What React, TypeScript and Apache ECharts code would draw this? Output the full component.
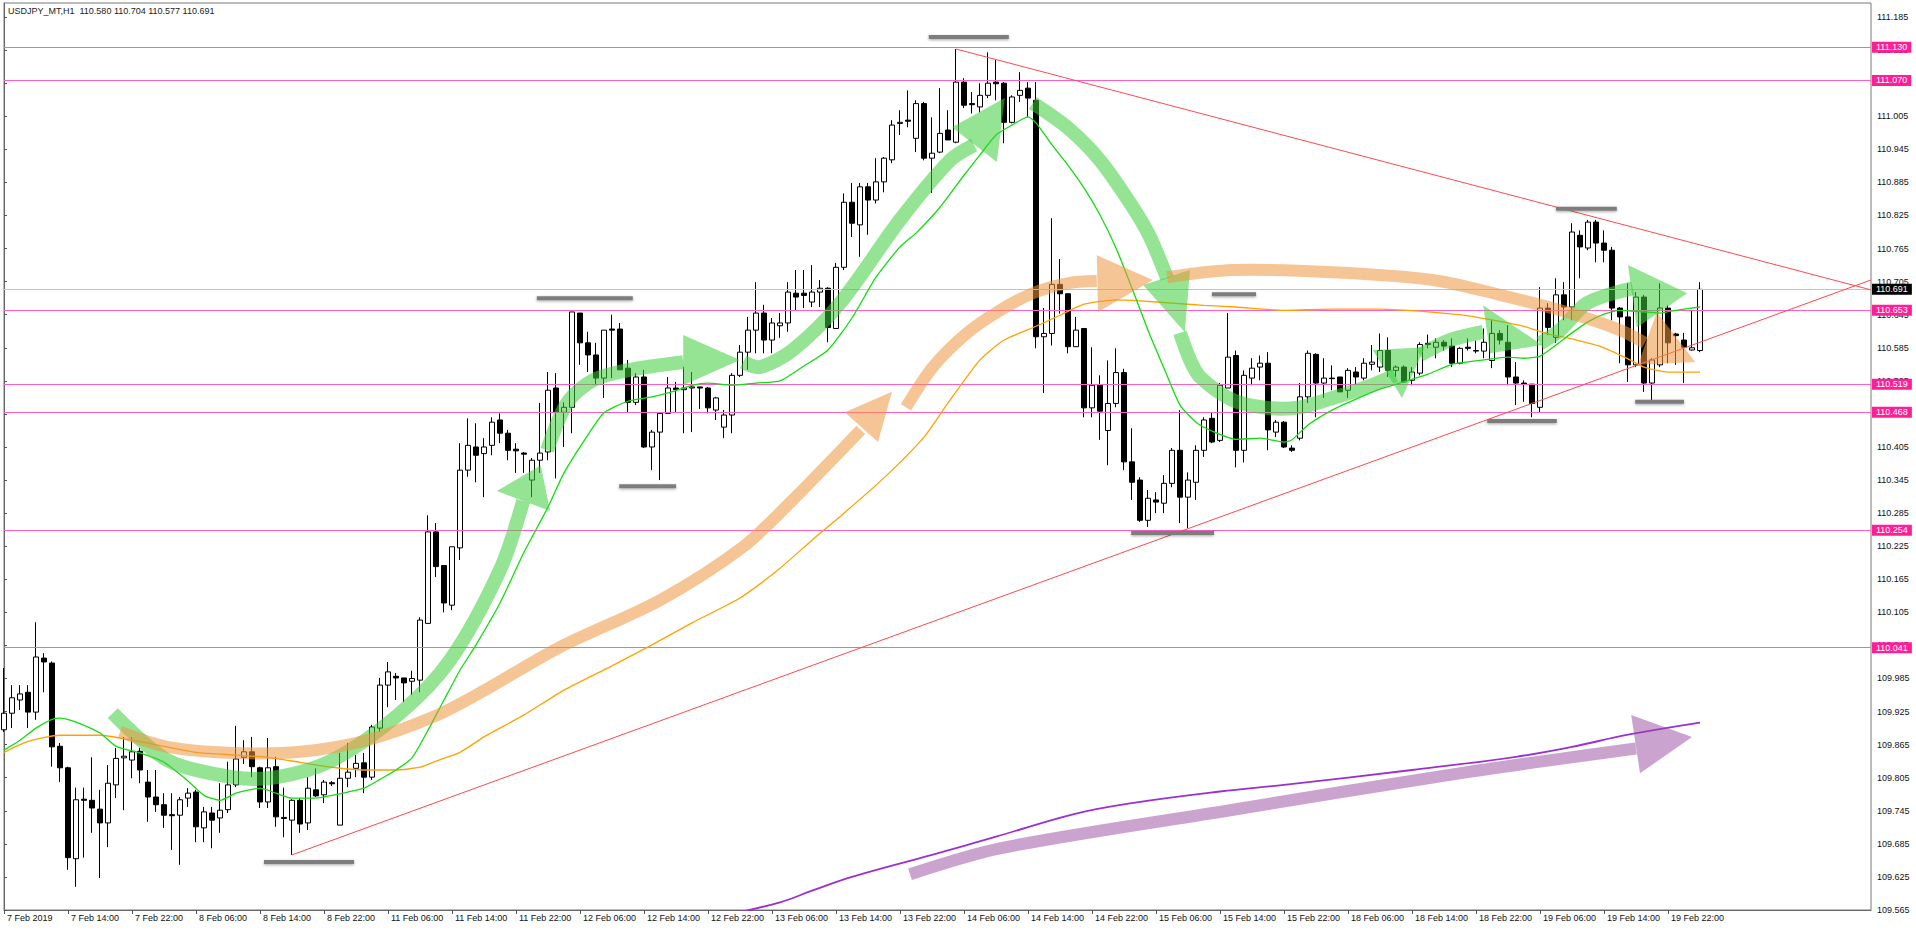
import React, { useEffect, useRef } from 'react';
import * as echarts from 'echarts';

const titleText = 'USDJPY_MT,H1  110.580 110.704 110.577 110.691';

// one label every 8 hourly bars, starting at bar 0
const timeLabels = ['7 Feb 2019', '7 Feb 14:00', '7 Feb 22:00', '8 Feb 06:00', '8 Feb 14:00', '8 Feb 22:00', '11 Feb 06:00', '11 Feb 14:00', '11 Feb 22:00', '12 Feb 06:00', '12 Feb 14:00', '12 Feb 22:00', '13 Feb 06:00', '13 Feb 14:00', '13 Feb 22:00', '14 Feb 06:00', '14 Feb 14:00', '14 Feb 22:00', '15 Feb 06:00', '15 Feb 14:00', '15 Feb 22:00', '18 Feb 06:00', '18 Feb 14:00', '18 Feb 22:00', '19 Feb 06:00', '19 Feb 14:00', '19 Feb 22:00'];

// [open, close, low, high]
const candles = [
  [109.892, 109.922, 109.888, 110.004], [109.922, 109.950, 109.895, 109.973], [109.946, 109.957, 109.928, 109.973], [109.960, 109.924, 109.895, 109.973],
  [109.924, 110.024, 109.910, 110.087], [110.022, 110.015, 109.960, 110.031], [110.013, 109.861, 109.825, 110.016], [109.862, 109.823, 109.797, 109.868],
  [109.823, 109.660, 109.638, 109.825], [109.658, 109.765, 109.607, 109.787], [109.766, 109.764, 109.660, 109.787], [109.764, 109.750, 109.705, 109.842],
  [109.748, 109.723, 109.623, 109.783], [109.723, 109.795, 109.679, 109.828], [109.792, 109.840, 109.768, 109.859], [109.841, 109.844, 109.746, 109.879],
  [109.837, 109.852, 109.804, 109.879], [109.853, 109.819, 109.795, 109.859], [109.797, 109.770, 109.725, 109.819], [109.770, 109.756, 109.743, 109.819],
  [109.756, 109.737, 109.714, 109.777], [109.738, 109.736, 109.674, 109.777], [109.737, 109.765, 109.647, 109.770], [109.768, 109.777, 109.752, 109.786],
  [109.779, 109.716, 109.688, 109.783], [109.714, 109.743, 109.688, 109.752], [109.741, 109.728, 109.677, 109.752], [109.732, 109.746, 109.705, 109.795],
  [109.747, 109.792, 109.741, 109.834], [109.792, 109.839, 109.788, 109.899], [109.842, 109.852, 109.830, 109.873], [109.852, 109.825, 109.806, 109.879],
  [109.823, 109.761, 109.750, 109.825], [109.761, 109.823, 109.750, 109.877], [109.825, 109.734, 109.716, 109.843], [109.733, 109.731, 109.697, 109.787],
  [109.728, 109.764, 109.665, 109.766], [109.764, 109.721, 109.705, 109.768], [109.723, 109.786, 109.710, 109.806], [109.783, 109.772, 109.770, 109.822],
  [109.774, 109.797, 109.759, 109.801], [109.796, 109.794, 109.790, 109.799], [109.719, 109.804, 109.719, 109.850], [109.804, 109.815, 109.788, 109.868],
  [109.822, 109.831, 109.806, 109.846], [109.832, 109.806, 109.777, 109.850], [109.806, 109.897, 109.801, 109.901], [109.895, 109.973, 109.888, 109.986],
  [109.973, 109.997, 109.933, 110.015], [109.989, 109.986, 109.946, 109.995], [109.986, 109.977, 109.942, 109.986], [109.980, 109.985, 109.955, 109.999],
  [109.982, 110.091, 109.960, 110.096], [110.085, 110.251, 110.085, 110.281], [110.251, 110.188, 110.169, 110.267], [110.190, 110.122, 110.105, 110.191],
  [110.118, 110.224, 110.109, 110.224], [110.222, 110.363, 110.200, 110.412], [110.363, 110.408, 110.351, 110.457], [110.405, 110.390, 110.341, 110.448],
  [110.393, 110.405, 110.314, 110.421], [110.408, 110.450, 110.390, 110.459], [110.454, 110.430, 110.412, 110.466], [110.430, 110.399, 110.381, 110.436],
  [110.401, 110.398, 110.358, 110.412], [110.394, 110.392, 110.358, 110.396], [110.345, 110.381, 110.314, 110.385], [110.381, 110.394, 110.358, 110.485],
  [110.396, 110.508, 110.381, 110.541], [110.512, 110.468, 110.348, 110.539], [110.468, 110.477, 110.405, 110.486], [110.477, 110.650, 110.430, 110.650],
  [110.648, 110.594, 110.554, 110.648], [110.594, 110.572, 110.541, 110.614], [110.572, 110.530, 110.517, 110.594], [110.530, 110.617, 110.494, 110.617],
  [110.619, 110.617, 110.530, 110.645], [110.619, 110.545, 110.545, 110.630], [110.548, 110.486, 110.468, 110.563], [110.486, 110.532, 110.481, 110.539],
  [110.532, 110.405, 110.403, 110.545], [110.405, 110.432, 110.363, 110.436], [110.432, 110.466, 110.345, 110.468], [110.466, 110.512, 110.466, 110.532],
  [110.512, 110.509, 110.468, 110.523], [110.509, 110.512, 110.430, 110.550], [110.512, 110.514, 110.432, 110.541], [110.514, 110.512, 110.474, 110.514],
  [110.512, 110.476, 110.466, 110.514], [110.472, 110.494, 110.454, 110.496], [110.441, 110.463, 110.421, 110.472], [110.463, 110.535, 110.430, 110.539],
  [110.535, 110.577, 110.532, 110.590], [110.577, 110.617, 110.545, 110.641], [110.617, 110.648, 110.575, 110.704], [110.648, 110.599, 110.575, 110.663],
  [110.599, 110.630, 110.575, 110.639], [110.625, 110.630, 110.603, 110.648], [110.630, 110.686, 110.614, 110.704], [110.684, 110.677, 110.653, 110.726],
  [110.684, 110.680, 110.657, 110.726], [110.668, 110.686, 110.659, 110.735], [110.686, 110.693, 110.659, 110.708], [110.693, 110.622, 110.595, 110.695],
  [110.620, 110.731, 110.620, 110.739], [110.731, 110.849, 110.726, 110.865], [110.849, 110.811, 110.786, 110.884], [110.808, 110.877, 110.750, 110.884],
  [110.877, 110.853, 110.790, 110.884], [110.853, 110.886, 110.847, 110.929], [110.886, 110.929, 110.867, 110.931], [110.926, 110.989, 110.920, 110.998],
  [110.992, 110.994, 110.971, 111.016], [110.998, 110.996, 110.985, 111.052], [110.965, 111.028, 110.940, 111.034], [111.028, 110.929, 110.925, 111.031],
  [110.929, 110.938, 110.866, 111.003], [110.940, 110.974, 110.938, 111.056], [110.980, 110.962, 110.962, 111.016], [110.958, 111.067, 110.956, 111.127],
  [111.067, 111.025, 111.020, 111.074], [111.028, 111.026, 111.010, 111.049], [111.022, 111.043, 111.012, 111.065], [111.043, 111.065, 111.038, 111.121],
  [111.067, 111.064, 111.034, 111.107], [111.065, 110.994, 110.956, 111.067], [110.994, 111.040, 110.992, 111.043], [111.043, 111.052, 111.031, 111.085],
  [111.056, 111.038, 111.003, 111.067], [111.034, 110.605, 110.584, 111.067], [110.605, 110.611, 110.503, 110.657], [110.611, 110.700, 110.589, 110.820],
  [110.700, 110.683, 110.647, 110.746], [110.683, 110.587, 110.575, 110.683], [110.587, 110.617, 110.587, 110.641], [110.620, 110.476, 110.459, 110.620],
  [110.476, 110.517, 110.459, 110.586], [110.517, 110.470, 110.418, 110.535], [110.435, 110.484, 110.372, 110.562], [110.484, 110.540, 110.477, 110.584],
  [110.540, 110.378, 110.363, 110.547], [110.378, 110.341, 110.309, 110.439], [110.345, 110.272, 110.269, 110.350], [110.272, 110.312, 110.260, 110.327],
  [110.309, 110.305, 110.285, 110.323], [110.303, 110.339, 110.285, 110.354], [110.339, 110.399, 110.332, 110.403], [110.399, 110.314, 110.267, 110.472],
  [110.314, 110.345, 110.258, 110.359], [110.341, 110.399, 110.309, 110.408], [110.399, 110.454, 110.387, 110.459], [110.457, 110.414, 110.412, 110.468],
  [110.417, 110.517, 110.414, 110.521], [110.512, 110.568, 110.512, 110.648], [110.571, 110.399, 110.368, 110.580], [110.399, 110.535, 110.377, 110.544],
  [110.530, 110.548, 110.517, 110.566], [110.550, 110.557, 110.526, 110.571], [110.557, 110.436, 110.399, 110.577], [110.432, 110.450, 110.423, 110.454],
  [110.450, 110.405, 110.403, 110.452], [110.403, 110.399, 110.396, 110.408], [110.421, 110.496, 110.417, 110.521], [110.496, 110.575, 110.485, 110.580],
  [110.573, 110.521, 110.459, 110.575], [110.521, 110.530, 110.494, 110.566], [110.530, 110.529, 110.508, 110.553], [110.532, 110.505, 110.505, 110.532],
  [110.508, 110.544, 110.494, 110.548], [110.541, 110.532, 110.517, 110.550], [110.530, 110.557, 110.526, 110.566], [110.555, 110.559, 110.544, 110.590],
  [110.550, 110.580, 110.541, 110.611], [110.580, 110.544, 110.532, 110.604], [110.544, 110.550, 110.532, 110.553], [110.550, 110.523, 110.521, 110.553],
  [110.526, 110.541, 110.517, 110.550], [110.539, 110.591, 110.535, 110.595], [110.593, 110.591, 110.584, 110.609], [110.586, 110.595, 110.566, 110.602],
  [110.595, 110.588, 110.580, 110.599], [110.588, 110.557, 110.550, 110.602], [110.557, 110.584, 110.555, 110.586], [110.586, 110.584, 110.580, 110.602],
  [110.580, 110.579, 110.575, 110.598], [110.579, 110.595, 110.566, 110.620], [110.562, 110.611, 110.548, 110.635], [110.611, 110.599, 110.591, 110.617],
  [110.595, 110.532, 110.517, 110.626], [110.532, 110.521, 110.481, 110.559], [110.521, 110.519, 110.487, 110.526], [110.519, 110.484, 110.459, 110.519],
  [110.477, 110.657, 110.468, 110.695], [110.657, 110.622, 110.608, 110.666], [110.604, 110.681, 110.594, 110.711], [110.681, 110.659, 110.635, 110.704],
  [110.659, 110.795, 110.635, 110.811], [110.789, 110.768, 110.711, 110.798], [110.766, 110.813, 110.762, 110.817], [110.813, 110.775, 110.740, 110.817],
  [110.775, 110.762, 110.740, 110.798], [110.762, 110.657, 110.635, 110.768], [110.657, 110.641, 110.557, 110.659], [110.641, 110.554, 110.523, 110.702],
  [110.554, 110.677, 110.550, 110.686], [110.677, 110.521, 110.505, 110.681], [110.521, 110.563, 110.487, 110.566], [110.554, 110.657, 110.550, 110.702],
  [110.657, 110.594, 110.557, 110.662], [110.610, 110.607, 110.554, 110.612], [110.599, 110.586, 110.521, 110.612], [110.581, 110.585, 110.580, 110.653],
  [110.580, 110.691, 110.577, 110.704],
];

// moving averages: [bar index, value]
const maFast = [
  [0, 109.855], [2, 109.873], [4, 109.895], [6, 109.911], [7, 109.913], [9, 109.906], [12, 109.886], [14, 109.862], [17, 109.850], [20, 109.833],
  [23, 109.799], [25, 109.773], [27, 109.764], [29, 109.777], [32, 109.786], [34, 109.777], [36, 109.768], [39, 109.768], [41, 109.773], [43, 109.779],
  [45, 109.786], [47, 109.802], [49, 109.819], [51, 109.841], [53, 109.891], [55, 109.946], [57, 110.000], [59, 110.046], [62, 110.122], [65, 110.214],
  [68, 110.296], [70, 110.358], [73, 110.427], [75, 110.467], [78, 110.488], [81, 110.496], [83, 110.503], [86, 110.517], [88, 110.521], [91, 110.517],
  [94, 110.521], [97, 110.525], [100, 110.552], [103, 110.581], [106, 110.639], [109, 110.713], [112, 110.768], [114, 110.793], [117, 110.840], [120, 110.898],
  [122, 110.935], [124, 110.971], [126, 110.989], [128, 111.004], [129, 110.993], [131, 110.953], [133, 110.916], [135, 110.875], [137, 110.826], [139, 110.766],
  [141, 110.693], [143, 110.617], [145, 110.548], [147, 110.481], [149, 110.450], [151, 110.434], [154, 110.419], [157, 110.421], [160, 110.414], [161, 110.418],
  [163, 110.445], [166, 110.472], [169, 110.492], [172, 110.510], [175, 110.523], [178, 110.537], [181, 110.555], [185, 110.563], [188, 110.568], [190, 110.566],
  [192, 110.570], [194, 110.590], [196, 110.612], [198, 110.632], [200, 110.646], [202, 110.653], [205, 110.650], [207, 110.648], [209, 110.653], [212, 110.659],
];
const maSlow = [
  [0, 109.851], [3, 109.871], [7, 109.882], [12, 109.882], [16, 109.873], [20, 109.862], [24, 109.851], [29, 109.846], [33, 109.842], [37, 109.833],
  [41, 109.824], [45, 109.819], [49, 109.819], [52, 109.824], [54, 109.835], [57, 109.851], [60, 109.879], [65, 109.919], [70, 109.964], [76, 110.008],
  [81, 110.046], [86, 110.086], [92, 110.131], [97, 110.185], [101, 110.236], [105, 110.285], [110, 110.349], [115, 110.423], [118, 110.485], [122, 110.563],
  [125, 110.599], [129, 110.624], [132, 110.644], [135, 110.664], [139, 110.672], [142, 110.670], [146, 110.666], [150, 110.662], [154, 110.659], [160, 110.653],
  [166, 110.655], [172, 110.655], [178, 110.650], [183, 110.643], [187, 110.633], [190, 110.624], [193, 110.610], [196, 110.601], [200, 110.585], [203, 110.565],
  [205, 110.550], [208, 110.541], [212, 110.541],
];
const maLong = [
  [90, 109.555], [97, 109.579], [101, 109.600], [106, 109.625], [116, 109.665], [124, 109.698], [134, 109.740], [141, 109.759], [152, 109.780], [160, 109.792],
  [176, 109.819], [189, 109.843], [196, 109.861], [203, 109.883], [212, 109.905],
];

const levels = [111.130, 111.070, 110.653, 110.519, 110.468, 110.254, 110.041];
const bidPrice = 110.691;

// trend lines: [[bar, price], [bar, price]]
const trendDown = [[119, 111.127], [233.375, 110.690]];
const trendUp = [[36, 109.665], [233.375, 110.708]];

// swing markers: [fromBar, toBar, price]
const swingMarks = [
  [115.6, 125.6, 111.149], [66.6, 78.6, 110.675], [76.9, 84.0, 110.334], [32.5, 43.75, 109.652], [151, 156.5, 110.682],
  [140.9, 151.25, 110.249], [185.4, 194.1, 110.452], [194, 201.6, 110.837], [203.9, 210, 110.487],
];

// hand-drawn arrows: shaft points and head triangle in [bar, price]
const greenArrows = [
  { shaft: [[13.6, 109.922], [20.4, 109.837], [28.6, 109.806], [34.1, 109.806], [41.1, 109.837], [49.5, 109.922], [55.75, 110.018], [62, 110.182], [64.9, 110.307]], head: [[61.6, 110.325], [68.25, 110.289], [67.1, 110.372]] },
  { shaft: [[67.9, 110.399], [70.4, 110.485], [73.6, 110.526], [77.9, 110.544], [84.9, 110.559]], head: [[84.9, 110.608], [84.9, 110.517], [92, 110.563]] },
  { shaft: [[92.4, 110.559], [94.5, 110.550], [98.6, 110.581], [104.5, 110.666], [112, 110.817], [118.25, 110.925], [121.25, 110.953]], head: [[118.5, 110.985], [124.1, 110.922], [125.1, 111.038]] },
  { shaft: [[128.6, 111.029], [132.9, 110.985], [137, 110.925], [141.1, 110.840], [143.25, 110.786], [145.4, 110.711]], head: [[142.4, 110.699], [148.25, 110.726], [147.6, 110.613]] },
  { shaft: [[147, 110.612], [148.25, 110.563], [149.5, 110.532], [153.6, 110.490], [157.9, 110.476], [162, 110.477], [166.1, 110.494], [170.4, 110.514], [173.9, 110.535]], head: [[171.1, 110.581], [177.6, 110.586], [174.75, 110.494]] },
  { shaft: [[177, 110.572], [180.75, 110.599], [184.9, 110.614]], head: [[184.9, 110.662], [185.75, 110.575], [192.25, 110.590]] },
  { shaft: [[192, 110.593], [194.5, 110.617], [197.9, 110.666], [203.6, 110.693]], head: [[203, 110.735], [204.1, 110.622], [210.4, 110.684]] },
];
const orangeArrows = [
  { shaft: [[14.5, 109.888], [20.4, 109.861], [28.6, 109.850], [37, 109.852], [45.4, 109.873], [53.6, 109.915], [59.5, 109.959], [69.5, 110.042], [82, 110.127], [92.4, 110.224], [98.6, 110.309], [103.25, 110.378], [107.1, 110.436]], head: [[105.1, 110.468], [109.25, 110.414], [111, 110.505]] },
  { shaft: [[112.75, 110.477], [116.1, 110.550], [120.4, 110.612], [124.5, 110.653], [128.6, 110.684], [132.9, 110.702], [136.6, 110.706]], head: [[136.6, 110.753], [136.75, 110.650], [143.6, 110.708]] },
  { shaft: [[145.4, 110.713], [153.6, 110.726], [166.1, 110.722], [178.6, 110.708], [187, 110.681], [195.75, 110.648], [202, 110.617], [205.1, 110.594]], head: [[206.6, 110.650], [204.25, 110.554], [211.4, 110.559]] },
];
const purpleArrows = [
  { shaft: [[113.25, 109.630], [124.5, 109.677], [153.25, 109.746], [181.9, 109.813], [204, 109.858]], head: [[203.4, 109.919], [204.5, 109.813], [211, 109.879]] },
];

const X_MAX = 233.375;

export default function App() {
  const ref = useRef<HTMLDivElement>(null);
  useEffect(() => {
    if (!ref.current) return;
    const chart = echarts.init(ref.current, undefined, { renderer: 'svg' });

    const arrows = [
      ...greenArrows.map((a) => ({ ...a, color: 'rgba(60, 206, 60, 0.55)', width: 14 })),
      ...orangeArrows.map((a) => ({ ...a, color: 'rgba(236, 150, 62, 0.55)', width: 12 })),
      ...purpleArrows.map((a) => ({ ...a, color: 'rgba(150, 72, 160, 0.5)', width: 12 })),
    ];

    const labelTicks = timeLabels.map((_, k) => k * 8);

    const levelLines: any[] = levels.map((v) => ({
      yAxis: v,
      lineStyle: { color: '#ff5ec4', width: 1, type: 'solid' },
      label: { backgroundColor: '#ff1e96', color: '#ffffff' },
    }));
    levelLines.push({
      yAxis: bidPrice,
      lineStyle: { color: '#c4c4c4', width: 1, type: 'solid' },
      label: { backgroundColor: '#000000', color: '#ffffff' },
    });
    const levelTexts = [...levels, bidPrice].map((v) => v.toFixed(3));

    chart.setOption({
      animation: false,
      textStyle: { fontFamily: 'Liberation Sans, Arial, sans-serif' },
      grid: { left: 4, right: 45, top: 3, bottom: 23, show: true, borderColor: '#7a7a7a', borderWidth: 1, backgroundColor: '#ffffff' },
      graphic: [
        {
          type: 'text', left: 8, top: 6, z: 100,
          style: { text: titleText, fontSize: 9, fontFamily: 'Liberation Sans, Arial, sans-serif', fill: '#222222' },
        },
      ],
      xAxis: {
        type: 'value', min: 0, max: X_MAX, position: 'bottom',
        splitLine: { show: false },
        axisLine: { show: true, lineStyle: { color: '#666666' } },
        axisTick: { show: true, customValues: labelTicks, length: 4, lineStyle: { color: '#555555' } },
        axisLabel: {
          customValues: labelTicks, fontSize: 9, color: '#111111', margin: 3, align: 'left', padding: [0, 0, 0, 3],
          formatter: (v: number) => timeLabels[Math.round(v / 8)] ?? '',
        },
      },
      yAxis: {
        type: 'value', position: 'right', min: 109.565, max: 111.2105, interval: 0.06, scale: true,
        splitLine: { show: false },
        axisLine: { show: true, lineStyle: { color: '#666666' } },
        axisTick: { show: true, length: 3, lineStyle: { color: '#555555' } },
        axisLabel: { fontSize: 9, color: '#111111', margin: 6, showMaxLabel: false, formatter: (v: number) => v.toFixed(3) },
      },
      series: [
        {
          type: 'candlestick', name: 'USDJPY', z: 2,
          data: candles.map((c, i) => [i, c[0], c[1], c[2], c[3]]),
          encode: { x: 0, y: [1, 2, 3, 4] },
          barWidth: 5,
          itemStyle: { color: '#ffffff', color0: '#000000', borderColor: '#000000', borderColor0: '#000000', borderWidth: 1 },
          markLine: {
            silent: true, symbol: ['none', 'none'], z: 3, precision: 3,
            label: {
              show: true, position: 'end', distance: 1, fontSize: 9, padding: [1, 4, 1, 4],
              formatter: (p: any) => levelTexts[p.dataIndex] ?? Number(p.value).toFixed(3),
            },
            data: levelLines,
          },
        },
        { type: 'line', name: 'MA long', data: maLong, symbol: 'none', z: 3, smooth: 0.4, lineStyle: { color: '#9b30d0', width: 1.8 } },
        { type: 'line', name: 'MA slow', data: maSlow, symbol: 'none', z: 3, smooth: 0.2, lineStyle: { color: '#ffa200', width: 1.3 } },
        { type: 'line', name: 'MA fast', data: maFast, symbol: 'none', z: 3, smooth: 0.2, lineStyle: { color: '#11dd11', width: 1.3 } },
        { type: 'line', name: 'trend down', data: trendDown, symbol: 'none', z: 3, lineStyle: { color: '#ff4a4a', width: 1 } },
        { type: 'line', name: 'trend up', data: trendUp, symbol: 'none', z: 3, lineStyle: { color: '#ff4a4a', width: 1 } },
        {
          type: 'custom', name: 'marks', z: 4, silent: true,
          data: swingMarks.map((m) => [m[0], m[2]]),
          encode: { x: 0, y: 1 },
          renderItem: (params: any, api: any) => {
            const m = swingMarks[params.dataIndex];
            const s = api.coord([m[0], m[2]]);
            const e = api.coord([m[1], m[2]]);
            return {
              type: 'rect',
              shape: { x: s[0], y: s[1] - 2, width: e[0] - s[0], height: 4 },
              style: { fill: '#7d7d7d', shadowBlur: 3, shadowColor: 'rgba(0,0,0,0.35)', shadowOffsetY: 1 },
            };
          },
        },
        {
          type: 'custom', name: 'arrows', z: 5, silent: true,
          data: arrows.map((a) => [a.head[2][0], a.head[2][1]]),
          encode: { x: 0, y: 1 },
          renderItem: (params: any, api: any) => {
            const a = arrows[params.dataIndex];
            const shaft = a.shaft.map((p) => api.coord(p));
            const head = a.head.map((p) => api.coord(p));
            return {
              type: 'group',
              children: [
                { type: 'polyline', shape: { points: shaft, smooth: 0.3 }, style: { stroke: a.color, lineWidth: a.width, fill: 'none', lineCap: 'butt', lineJoin: 'round' } },
                { type: 'polygon', shape: { points: head }, style: { fill: a.color, stroke: 'none' } },
              ],
            };
          },
        },
      ],
    });
    return () => chart.dispose();
  }, []);

  return <div ref={ref} style={{ position: 'fixed', left: 0, top: 0, width: 1916, height: 933, background: '#ffffff' }} />;
}
